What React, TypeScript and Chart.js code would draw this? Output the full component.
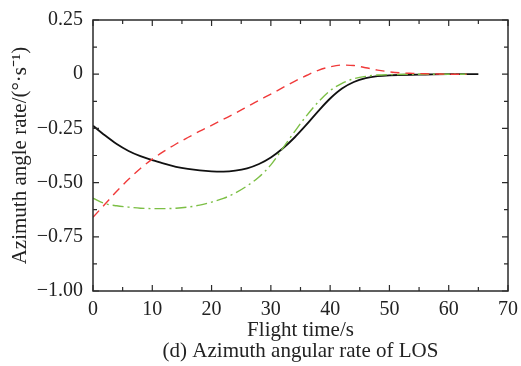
import { useEffect, useRef } from "react";
import { Chart, registerables } from "chart.js";
Chart.register(...registerables);

// Black solid curve
const blackT = [0, 2, 4, 6, 8, 10, 12, 14, 16, 18, 20, 22, 24, 26, 28, 30, 32, 34, 36, 38, 40, 42, 44, 46, 48, 50, 55, 60, 65];
const blackV = [-0.238, -0.282, -0.322, -0.354, -0.378, -0.396, -0.413, -0.427, -0.437, -0.444, -0.448, -0.449, -0.445, -0.434, -0.414, -0.384, -0.343, -0.292, -0.233, -0.17, -0.112, -0.066, -0.036, -0.018, -0.009, -0.005, -0.002, 0, 0];

// Red dashed curve
const redT = [0, 2, 4, 6, 8, 10, 12, 14, 16, 18, 20, 22, 24, 26, 28, 30, 32, 34, 36, 38, 40, 42, 44, 46, 48, 50, 52, 54, 56, 58, 60, 63];
const redV = [-0.66, -0.6, -0.54, -0.485, -0.435, -0.392, -0.355, -0.322, -0.292, -0.263, -0.236, -0.208, -0.18, -0.15, -0.12, -0.092, -0.062, -0.033, -0.006, 0.018, 0.034, 0.042, 0.04, 0.03, 0.019, 0.011, 0.006, 0.004, 0.002, 0.001, 0, 0];

// Green dash-dot curve
const greenT = [0, 2, 4, 6, 8, 10, 12, 14, 16, 18, 20, 22, 24, 26, 28, 30, 32, 34, 36, 38, 40, 42, 44, 46, 48, 50, 55, 60, 63];
const greenV = [-0.572, -0.597, -0.607, -0.613, -0.618, -0.62, -0.62, -0.618, -0.613, -0.604, -0.59, -0.573, -0.548, -0.515, -0.474, -0.418, -0.342, -0.265, -0.192, -0.128, -0.076, -0.042, -0.021, -0.01, -0.004, -0.002, 0, 0, 0];

const xTickValues = [0, 10, 20, 30, 40, 50, 60, 70];
const xTickLabels = ["0", "10", "20", "30", "40", "50", "60", "70"];
const xMinorTicks = [5, 15, 25, 35, 45, 55, 65];
const yTickValues = [-1, -0.75, -0.5, -0.25, 0, 0.25];
const yTickLabels = ["\u22121.00", "\u22120.75", "\u22120.50", "\u22120.25", "0", "0.25"];
const yMinorTicks = [-0.875, -0.625, -0.375, -0.125, 0.125];

const xTitle = ["Flight time/s", "(d) Azimuth angular rate of LOS"];
const yTitle = "Azimuth angle rate/(\u00b0\u00b7s\u207b\u00b9)";

const FONT = "'Liberation Serif', 'Times New Roman', serif";

const framePlugin = {
  id: "frame",
  afterDatasetsDraw(chart: any) {
    const { ctx, chartArea: a, scales } = chart;
    const xs = scales.x;
    const ys = scales.y;
    ctx.save();
    ctx.strokeStyle = "#2a2a2a";
    ctx.lineWidth = 1.5;
    ctx.strokeRect(a.left, a.top, a.right - a.left, a.bottom - a.top);
    ctx.lineWidth = 1.2;
    ctx.beginPath();
    const major = 6;
    const minor = 4;
    const xt = (v: number, len: number) => {
      const p = xs.getPixelForValue(v);
      ctx.moveTo(p, a.bottom);
      ctx.lineTo(p, a.bottom - len);
      ctx.moveTo(p, a.top);
      ctx.lineTo(p, a.top + len);
    };
    const yt = (v: number, len: number) => {
      const p = ys.getPixelForValue(v);
      ctx.moveTo(a.left, p);
      ctx.lineTo(a.left + len, p);
      ctx.moveTo(a.right, p);
      ctx.lineTo(a.right - len, p);
    };
    xTickValues.forEach((v) => xt(v, major));
    xMinorTicks.forEach((v) => xt(v, minor));
    yTickValues.forEach((v) => yt(v, major));
    yMinorTicks.forEach((v) => yt(v, minor));
    ctx.stroke();
    ctx.restore();
  },
};

function toPoints(t: number[], v: number[]) {
  return t.map((x, i) => ({ x, y: v[i] }));
}

export default function App() {
  const ref = useRef<HTMLCanvasElement>(null);
  useEffect(() => {
    const canvas = ref.current!;
    const chart = new Chart(canvas, {
      type: "line",
      data: {
        datasets: [
          {
            data: toPoints(redT, redV),
            borderColor: "#f03a3a",
            borderWidth: 1.4,
            borderDash: [9, 6],
            pointRadius: 0,
            cubicInterpolationMode: "monotone",
            fill: false,
          },
          {
            data: toPoints(greenT, greenV),
            borderColor: "#7cbf45",
            borderWidth: 1.4,
            borderDash: [11, 4, 2, 4],
            pointRadius: 0,
            cubicInterpolationMode: "monotone",
            fill: false,
          },
          {
            data: toPoints(blackT, blackV),
            borderColor: "#111111",
            borderWidth: 1.8,
            pointRadius: 0,
            cubicInterpolationMode: "monotone",
            fill: false,
          },
        ],
      },
      options: {
        responsive: false,
        animation: false,
        layout: { padding: { top: 20, right: 13, left: 0, bottom: 0 } },
        plugins: { legend: { display: false }, tooltip: { enabled: false } },
        scales: {
          x: {
            type: "linear",
            min: 0,
            max: 70,
            afterFit: (s: any) => {
              s.height = 75;
              s.paddingLeft = 0;
              s.paddingRight = 0;
            },
            afterBuildTicks: (s: any) => {
              s.ticks = xTickValues.map((value) => ({ value }));
            },
            grid: { display: false, drawTicks: false },
            border: { display: false },
            ticks: {
              padding: 7,
              maxRotation: 0,
              color: "#222",
              font: { family: FONT, size: 20 },
              callback: (v: any) => xTickLabels[xTickValues.indexOf(Number(v))] ?? "",
            },
            title: {
              display: true,
              text: xTitle,
              color: "#222",
              font: { family: FONT, size: 21, lineHeight: 1.0 },
              padding: { top: 0, bottom: 4 },
            },
          },
          y: {
            type: "linear",
            min: -1,
            max: 0.25,
            afterFit: (s: any) => {
              s.width = 93;
              s.paddingTop = 0;
              s.paddingBottom = 0;
            },
            afterBuildTicks: (s: any) => {
              s.ticks = yTickValues.map((value) => ({ value }));
            },
            grid: { display: false, drawTicks: false },
            border: { display: false },
            ticks: {
              padding: 10,
              color: "#222",
              font: { family: FONT, size: 20 },
              callback: (v: any) => yTickLabels[yTickValues.findIndex((t) => Math.abs(t - Number(v)) < 1e-9)] ?? "",
            },
            title: {
              display: true,
              text: yTitle,
              color: "#222",
              font: { family: FONT, size: 21, lineHeight: 1.2 },
              padding: { top: 8, bottom: 0 },
            },
          },
        },
      },
      plugins: [framePlugin],
    } as any);
    return () => chart.destroy();
  }, []);
  return (
    <div style={{ position: "fixed", left: 0, top: 0, width: 521, height: 366, background: "#fff" }}>
      <canvas ref={ref} width={521} height={366} style={{ display: "block" }} />
    </div>
  );
}
